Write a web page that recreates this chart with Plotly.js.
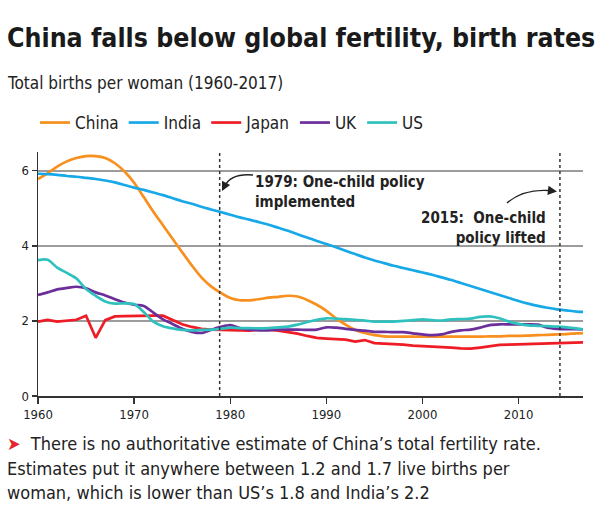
<!DOCTYPE html>
<html>
<head>
<meta charset="utf-8">
<script src="https://cdn.plot.ly/plotly-3.0.1.min.js"></script>
<style>html,body{margin:0;padding:0;background:#fff;}#chart{width:600px;height:521px;}</style>
</head>
<body>
<div id="chart"></div>
<script>
const years = [];
for (let y = 1960; y <= 2017; y++) years.push(y);

const china = [5.78,5.93,6.11,6.25,6.34,6.39,6.39,6.34,6.20,5.98,5.68,5.30,4.91,4.55,4.19,3.83,3.48,3.16,2.92,2.75,
  2.61,2.55,2.55,2.58,2.62,2.64,2.67,2.65,2.56,2.43,2.27,2.07,1.90,1.76,1.68,1.62,1.59,1.58,1.58,1.58,
  1.58,1.58,1.58,1.58,1.58,1.58,1.58,1.59,1.59,1.60,1.60,1.61,1.62,1.63,1.64,1.65,1.67,1.68];
const india = [5.92,5.91,5.89,5.86,5.84,5.81,5.78,5.74,5.69,5.62,5.55,5.49,5.42,5.35,5.27,5.19,5.12,5.04,4.97,4.90,
  4.83,4.76,4.70,4.63,4.56,4.48,4.40,4.31,4.22,4.13,4.05,3.96,3.87,3.78,3.69,3.61,3.54,3.47,3.41,3.35,
  3.29,3.23,3.16,3.09,3.01,2.93,2.85,2.77,2.69,2.61,2.53,2.46,2.40,2.35,2.31,2.28,2.25,2.24];
const japan = [1.98,2.03,1.98,2.00,2.03,2.14,1.55,2.02,2.12,2.13,2.14,2.14,2.14,2.14,2.02,1.91,1.84,1.79,1.77,1.76,
  1.75,1.73,1.74,1.77,1.77,1.74,1.71,1.66,1.60,1.55,1.53,1.52,1.50,1.45,1.49,1.41,1.40,1.38,1.37,1.34,
  1.33,1.32,1.31,1.29,1.27,1.26,1.29,1.33,1.36,1.37,1.38,1.39,1.40,1.41,1.41,1.42,1.43,1.43];
const uk = [2.69,2.76,2.84,2.88,2.91,2.87,2.76,2.68,2.58,2.49,2.43,2.40,2.22,2.04,1.92,1.79,1.71,1.68,1.76,1.84,
  1.89,1.81,1.77,1.75,1.75,1.77,1.77,1.77,1.76,1.77,1.83,1.82,1.79,1.76,1.74,1.71,1.71,1.70,1.70,1.67,
  1.64,1.62,1.64,1.71,1.75,1.77,1.82,1.89,1.91,1.91,1.91,1.91,1.90,1.82,1.79,1.78,1.78,1.77];
const us = [3.62,3.63,3.42,3.28,3.13,2.85,2.67,2.52,2.46,2.47,2.45,2.24,1.98,1.86,1.80,1.76,1.75,1.76,1.77,1.79,
  1.82,1.81,1.81,1.80,1.81,1.83,1.85,1.90,1.97,2.03,2.07,2.06,2.05,2.03,2.01,1.98,1.98,1.98,2.00,2.02,
  2.04,2.02,2.01,2.04,2.05,2.06,2.11,2.12,2.07,1.98,1.92,1.88,1.87,1.86,1.85,1.83,1.80,1.76];

const seriesNames = ["China","India","Japan","UK","US"];
const seriesData = [china, india, japan, uk, us];
const seriesColors = ["#F7901E","#17A8E8","#EE1C25","#6B2E9A","#2FC1BE"];
const seriesShape = ["spline","spline","linear","spline","spline"];

const xTicks = [1960,1970,1980,1990,2000,2010];
const yTicks = [0,2,4,6];
const policyYears = [1978.9, 2014.3];

const W = 600, H = 521, L = 38, R = 17, T = 152, B = 125;
const PW = W - L - R, PH = H - T - B;
const px = x => (x - L) / PW;
const py = y => (H - B - y) / PH;

const COND = "'DejaVu Sans Condensed', 'Liberation Sans Narrow', 'DejaVu Sans', sans-serif";

const traces = seriesNames.map((n, i) => ({
  x: years, y: seriesData[i], name: n, type: "scatter", mode: "lines",
  line: {color: seriesColors[i], width: 2.7, shape: seriesShape[i], smoothing: 0.8},
  hoverinfo: "skip"
}));

const shapes = policyYears.map(yr => ({
  type: "line", xref: "x", yref: "paper", x0: yr, x1: yr, y0: 0, y1: 1,
  line: {color: "#333", width: 1.5, dash: "dot"}
}));
function pathFromPx(pts) {
  const p = pts.map(([x, y]) => [px(x).toFixed(4), py(y).toFixed(4)]);
  return `M${p[0][0]},${p[0][1]} Q${p[1][0]},${p[1][1]} ${p[2][0]},${p[2][1]}`;
}
shapes.push({type: "path", xref: "paper", yref: "paper", path: pathFromPx([[253,175],[231,173],[225,186]]), line: {color: "#222", width: 1.4}});
shapes.push({type: "path", xref: "paper", yref: "paper", path: pathFromPx([[507,203],[523,189],[549,190.5]]), line: {color: "#222", width: 1.4}});

const FOOT = 18;
const annotations = [
  {xref: "paper", yref: "paper", x: px(5), y: py(83), xanchor: "left", yanchor: "middle", showarrow: false,
   text: "Total births per woman (1960-2017)", font: {family: COND, size: 17, color: "#222"}},
  {xref: "paper", yref: "paper", x: px(253), y: py(191.5), xanchor: "left", yanchor: "middle", showarrow: false, align: "left",
   text: "<b>1979: One-child policy<br>implemented</b>", font: {family: COND, size: 15, color: "#222"}},
  {xref: "paper", yref: "paper", x: px(548), y: py(228), xanchor: "right", yanchor: "middle", showarrow: false, align: "right",
   text: "<b>2015:  One-child<br>policy lifted</b>", font: {family: COND, size: 15, color: "#222"}},
  {xref: "paper", yref: "paper", x: px(222), y: py(191), ax: 4, ay: -8, text: "", showarrow: true,
   arrowhead: 2, arrowsize: 1.3, arrowwidth: 1.4, arrowcolor: "#222"},
  {xref: "paper", yref: "paper", x: px(557), y: py(191.5), ax: -8, ay: -1, text: "", showarrow: true,
   arrowhead: 2, arrowsize: 1.3, arrowwidth: 1.4, arrowcolor: "#222"},
  {xref: "paper", yref: "paper", x: px(5), y: py(443), xanchor: "left", yanchor: "middle", showarrow: false,
   text: "<span style='color:#E3262D'>➤</span>  There is no authoritative estimate of China’s total fertility rate.", font: {family: COND, size: FOOT, color: "#222"}},
  {xref: "paper", yref: "paper", x: px(5), y: py(468), xanchor: "left", yanchor: "middle", showarrow: false,
   text: "Estimates put it anywhere between 1.2 and 1.7 live births per", font: {family: COND, size: FOOT, color: "#222"}},
  {xref: "paper", yref: "paper", x: px(5), y: py(492), xanchor: "left", yanchor: "middle", showarrow: false,
   text: "woman, which is lower than US’s 1.8 and India’s 2.2", font: {family: COND, size: FOOT, color: "#222"}}
];

const layout = {
  width: W, height: H,
  margin: {l: L, r: R, t: T, b: B, pad: 0},
  paper_bgcolor: "#fff", plot_bgcolor: "#fff",
  title: {text: "<b>China falls below global fertility, birth rates</b>", xref: "container", yref: "container",
          x: 7 / W, xanchor: "left", y: 1 - 38 / H, yanchor: "middle",
          font: {family: COND, size: 26.5, color: "#1a1a1a"}},
  showlegend: true,
  legend: {orientation: "h", x: px(35), xanchor: "left", y: py(123), yanchor: "middle",
           font: {family: COND, size: 17, color: "#222"}, bgcolor: "rgba(0,0,0,0)", itemclick: false},
  xaxis: {range: [1960, 2016.7], tickvals: xTicks, ticks: "outside", ticklen: 6, tickwidth: 1.3, tickcolor: "#333",
          showline: true, linecolor: "#333", linewidth: 1.5, showgrid: false, zeroline: false,
          tickfont: {family: COND, size: 13, color: "#222"}, fixedrange: true},
  yaxis: {range: [0, 6.5], tickvals: yTicks, ticks: "outside", ticklen: 5, tickwidth: 1.3, tickcolor: "#333",
          showline: true, linecolor: "#333", linewidth: 1.5, showgrid: true, gridcolor: "#9c9c9c", gridwidth: 1.5,
          zeroline: false, tickfont: {family: COND, size: 13, color: "#222"}, fixedrange: true},
  shapes: shapes,
  annotations: annotations
};

Plotly.newPlot("chart", traces, layout, {displayModeBar: false, staticPlot: true});
</script>
</body>
</html>
